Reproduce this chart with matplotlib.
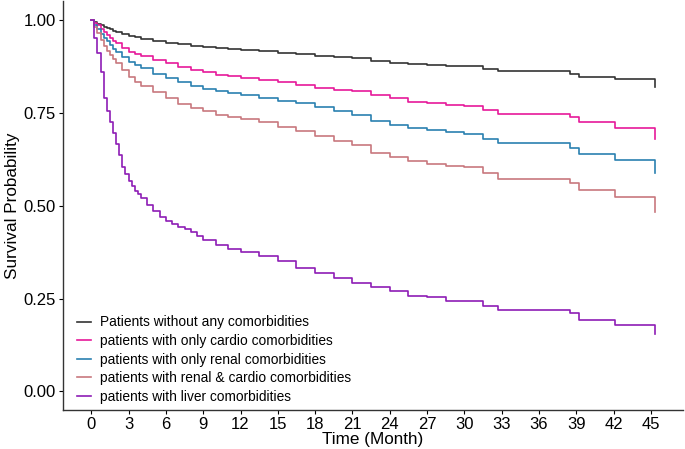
import numpy as np
import matplotlib
matplotlib.use('Agg')
import matplotlib.pyplot as plt

plt.rcParams['font.family'] = ['Liberation Sans', 'DejaVu Sans']

# tiempo (meses) e probabilidade de sobrevida
t_none = [0, 0.25, 0.5, 0.75, 1, 1.25, 1.5, 1.75, 2, 2.5, 3, 3.5, 4, 5, 6, 7, 8, 9, 10, 11, 12,
          13.5, 15, 16.5, 18, 19.5, 21, 22.5, 24, 25.5, 27, 28.5, 30, 31.5, 32.7, 38.5, 39.2,
          42.1, 45.3]
s_none = [1.0, 0.995, 0.99, 0.986, 0.982, 0.978, 0.975, 0.971, 0.968, 0.962, 0.957, 0.953,
          0.949, 0.943, 0.938, 0.934, 0.931, 0.928, 0.925, 0.922, 0.919, 0.915, 0.911, 0.908,
          0.904, 0.900, 0.897, 0.889, 0.885, 0.880, 0.878, 0.876, 0.875, 0.868, 0.862, 0.855,
          0.847, 0.840, 0.820]

t_cardio = t_none
s_cardio = [1.0, 0.993, 0.985, 0.976, 0.968, 0.960, 0.952, 0.944, 0.937, 0.924, 0.914, 0.908,
            0.902, 0.893, 0.883, 0.873, 0.866, 0.859, 0.853, 0.848, 0.844, 0.838, 0.832, 0.825,
            0.818, 0.811, 0.808, 0.797, 0.790, 0.780, 0.775, 0.771, 0.768, 0.758, 0.748, 0.738,
            0.724, 0.710, 0.679]

t_renal = t_none
s_renal = [1.0, 0.987, 0.975, 0.963, 0.952, 0.942, 0.932, 0.923, 0.914, 0.899, 0.886, 0.878,
           0.870, 0.855, 0.843, 0.833, 0.822, 0.815, 0.808, 0.803, 0.798, 0.791, 0.783, 0.775,
           0.766, 0.755, 0.745, 0.727, 0.718, 0.710, 0.703, 0.697, 0.692, 0.680, 0.668, 0.655,
           0.638, 0.622, 0.587]

t_rc = t_none
s_rc = [1.0, 0.982, 0.965, 0.947, 0.930, 0.917, 0.905, 0.894, 0.884, 0.866, 0.847, 0.834,
        0.822, 0.805, 0.789, 0.774, 0.762, 0.754, 0.745, 0.739, 0.733, 0.724, 0.713, 0.700,
        0.688, 0.675, 0.663, 0.642, 0.630, 0.620, 0.612, 0.607, 0.603, 0.588, 0.573, 0.560,
        0.542, 0.522, 0.483]

t_liver = [0, 0.25, 0.5, 0.75, 1, 1.25, 1.5, 1.75, 2, 2.25, 2.5, 2.75, 3, 3.25, 3.5, 3.75, 4,
           4.5, 5, 5.5, 6, 6.5, 7, 7.5, 8, 8.5, 9, 10, 11, 12, 13.5, 15, 16.5, 18, 19.5, 21,
           22.5, 24, 25.5, 27, 28.5, 30, 31.5, 32.7, 38.5, 39.2, 42.1, 45.3]
s_liver = [1.0, 0.95, 0.91, 0.86, 0.79, 0.755, 0.725, 0.695, 0.665, 0.635, 0.605, 0.585, 0.565,
           0.552, 0.54, 0.53, 0.52, 0.502, 0.485, 0.47, 0.458, 0.45, 0.443, 0.436, 0.428, 0.418,
           0.408, 0.393, 0.382, 0.375, 0.365, 0.350, 0.332, 0.320, 0.305, 0.292, 0.280, 0.270,
           0.258, 0.254, 0.244, 0.244, 0.229, 0.219, 0.210, 0.193, 0.179, 0.155]

labels = ['Patients without any comorbidities',
          'patients with only cardio comorbidities',
          'patients with only renal comorbidities',
          'patients with renal & cardio comorbidities',
          'patients with liver comorbidities']
cores = ['#333333', '#E6199A', '#2A80B0', '#C8787E', '#8E1DB5']

curvas = [(t_none, s_none), (t_cardio, s_cardio), (t_renal, s_renal), (t_rc, s_rc), (t_liver, s_liver)]

fig = plt.figure(figsize=(6.85, 4.49), dpi=100)
ax = fig.add_axes([0.092, 0.087, 0.905, 0.91])

for (t, s), c, lab in zip(curvas, cores, labels):
    ax.step(t, s, where='post', color=c, lw=1.2, label=lab)

ax.set_xlim(-2.27, 47.57)
ax.set_ylim(-0.05, 1.05)
ax.set_xticks(np.arange(0, 46, 3))
ax.set_yticks([0, 0.25, 0.5, 0.75, 1.0])
ax.set_yticklabels(['0.00', '0.25', '0.50', '0.75', '1.00'])
ax.tick_params(labelsize=12, colors='black', length=3, width=0.8, pad=2)
for sp in ['top', 'right']:
    ax.spines[sp].set_visible(False)
for sp in ['left', 'bottom']:
    ax.spines[sp].set_color('#333333')
    ax.spines[sp].set_linewidth(1.0)

ax.set_xlabel('Time (Month)', fontsize=12.3, labelpad=0)
ax.set_ylabel('Survival Probability', fontsize=12.3, labelpad=3)

ax.legend(loc='lower left', bbox_to_anchor=(0.007, -0.008), frameon=False, fontsize=9.9,
          handlelength=1.0, handletextpad=0.65, labelspacing=0.33, borderaxespad=0.3)

plt.savefig('out.png', dpi=100)
